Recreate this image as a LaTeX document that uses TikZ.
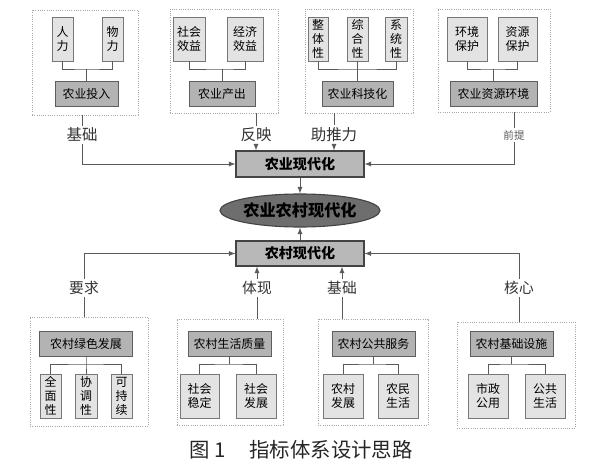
\documentclass[tikz,border=0pt]{standalone}
\usepackage{fontspec}
\newfontfamily\cjk{Noto Sans CJK SC}
\usepackage{xcolor}
\usetikzlibrary{shapes, positioning}

\definecolor{leafgray}{HTML}{E3E3E3}
\definecolor{leafline}{HTML}{777777}
\definecolor{midgray}{HTML}{B3B3B3}
\definecolor{midline}{HTML}{5E5E5E}
\definecolor{coregray}{HTML}{B8B8B8}
\definecolor{coreline}{HTML}{444444}
\definecolor{ovalgray}{HTML}{6E6E6E}
\definecolor{grpline}{HTML}{A8A8A8}
\definecolor{lnkgray}{HTML}{5A5A5A}
\definecolor{tagtext}{HTML}{333333}

\begin{document}
\begin{tikzpicture}[x=0.025cm, y=-0.025cm, >=latex,
    wh/.style 2 args={minimum width=#1*0.025cm, minimum height=#2*0.025cm},
    leaf/.style={draw=leafline, fill=leafgray, inner sep=0pt, align=center, font=\cjk\fontsize{8.5}{10}\selectfont},
    mid/.style={draw=midline, fill=midgray, inner sep=0pt, font=\cjk\fontsize{8.5}{10}\selectfont},
    core/.style={draw=coreline, fill=coregray, line width=0.8pt, inner sep=0pt, font=\cjk\bfseries\fontsize{10}{12}\selectfont},
    grp/.style={draw=grpline, densely dotted, line width=0.6pt, inner sep=0pt},
    lnk/.style={draw=lnkgray, line width=0.6pt},
    tag/.style={inner sep=1.5pt, text=tagtext, font=\cjk\fontsize{11}{13}\selectfont}]

    \useasboundingbox (0,0) rectangle (600,473);

    % dotted frames, top
    \node[grp, wh={106}{105}] (f1) at (85,62.5) {};
    \node[grp, wh={108}{104}] (f2) at (224,61) {};
    \node[grp, wh={108}{104}] (f3) at (359,61) {};
    \node[grp, wh={112}{103}] (f4) at (494,60.5) {};

    % leaves, top
    \node[leaf, wh={21}{44}] (rl) at (62.5,39) {人\\力};
    \node[leaf, wh={21}{44}] (wl) at (112.5,39) {物\\力};
    \node[leaf, wh={32}{44}] (sy) at (189,39) {社会\\效益};
    \node[leaf, wh={36}{44}] (jy) at (245,39) {经济\\效益};
    \node[leaf, wh={20}{44}] (zt) at (318,39) {整\\体\\性};
    \node[leaf, wh={21}{44}] (zh) at (357.5,39) {综\\合\\性};
    \node[leaf, wh={22}{44}] (xt) at (396,39) {系\\统\\性};
    \node[leaf, wh={40}{44}] (hj) at (467,39) {环境\\保护};
    \node[leaf, wh={39}{44}] (zy) at (517.5,39) {资源\\保护};

    % second level, top
    \node[mid, wh={63}{25}] (tr) at (86.5,93.5) {农业投入};
    \node[mid, wh={66}{25}] (cc) at (222,93.5) {农业产出};
    \node[mid, wh={71}{25}] (kj) at (357.5,93.5) {农业科技化};
    \node[mid, wh={87}{25}] (zyhj) at (493.5,93.5) {农业资源环境};

    \coordinate (j1) at (86.5,69);
    \coordinate (j2) at (222,69);
    \coordinate (j3) at (357.5,69);
    \coordinate (j4) at (493.5,69);

    \draw[lnk] (rl.south) |- (j1) -| (wl.south);
    \draw[lnk] (j1) -- (tr.north);
    \draw[lnk] (sy.south) |- (j2) -| (jy.south);
    \draw[lnk] (j2) -- (cc.north);
    \draw[lnk] (zt.south) |- (j3) -| (xt.south);
    \draw[lnk] (zh.south) -- (j3) -- (kj.north);
    \draw[lnk] (hj.south) |- (j4) -| (zy.south);
    \draw[lnk] (j4) -- (zyhj.north);

    % labels, top
    \node[tag] (lb1) at (82,135) {基础};
    \node[tag] (lb2) at (256,135) {反映};
    \node[tag] (lb3) at (334,135) {助推力};
    \node[tag, font=\cjk\fontsize{7.5}{9}\selectfont, text=black!65] (lb4) at (514,135) {前提};

    % core
    \node[core, wh={128}{26}] (nyx) at (300,164) {农业现代化};
    \node[ellipse, draw=coreline, fill=ovalgray, line width=0.8pt, inner sep=0pt, wh={150}{33},
          font=\cjk\bfseries\fontsize{11.5}{13}\selectfont] (ny) at (300,210.5) {农业农村现代化};
    \node[core, wh={128}{25}] (ncx) at (300,253.5) {农村现代化};

    \draw[lnk] (f1.south -| lb1) -- (lb1.north);
    \draw[lnk] (f2.south -| lb2) -- (lb2.north);
    \draw[lnk] (f3.south -| lb3) -- (lb3.north);
    \draw[lnk] (f4.south -| lb4) -- (lb4.north);
    \draw[lnk, ->] (lb1.south) |- (nyx.west);
    \draw[lnk, ->] (lb2.south) -- (nyx.north -| lb2);
    \draw[lnk, ->] (lb3.south) -- (nyx.north -| lb3);
    \draw[lnk, ->] (lb4.south) |- (nyx.east);
    \draw[lnk, ->] (nyx.south) -- (ny.north);
    \draw[lnk, ->] (ncx.north) -- (ny.south);

    % labels, bottom
    \node[tag, font=\cjk\fontsize{10.5}{12}\selectfont] (lc1) at (84,288) {要求};
    \node[tag, font=\cjk\fontsize{10.5}{12}\selectfont] (lc2) at (257,288) {体现};
    \node[tag, font=\cjk\fontsize{10.5}{12}\selectfont] (lc3) at (342,288) {基础};
    \node[tag, font=\cjk\fontsize{10.5}{12}\selectfont] (lc4) at (519,288) {核心};

    \draw[lnk, ->] (lc1.north) |- (ncx.west);
    \draw[lnk, ->] (lc2.north) -- (ncx.south -| lc2);
    \draw[lnk, ->] (lc3.north) -- (ncx.south -| lc3);
    \draw[lnk, ->] (lc4.north) |- (ncx.east);

    % dotted frames, bottom
    \node[grp, wh={118}{109}] (g1) at (89,371.5) {};
    \node[grp, wh={106}{106}] (g2) at (230,372) {};
    \node[grp, wh={110}{106}] (g3) at (373,372) {};
    \node[grp, wh={118}{106}] (g4) at (516,375) {};

    \draw[lnk] (lc1.south) -- (g1.north -| lc1);
    \draw[lnk] (lc2.south) -- (g2.north -| lc2);
    \draw[lnk] (lc3.south) -- (g3.north -| lc3);
    \draw[lnk] (lc4.south) -- (g4.north -| lc4);

    % second level, bottom
    \node[mid, wh={93}{25}] (ls) at (86,343.5) {农村绿色发展};
    \node[mid, wh={83}{25}] (sh) at (229.5,343.5) {农村生活质量};
    \node[mid, wh={83}{25}] (gg) at (373.5,343.5) {农村公共服务};
    \node[mid, wh={83}{25}] (jc) at (511.5,343.5) {农村基础设施};

    % leaves, bottom
    \node[leaf, wh={21}{44}] (qm) at (50.5,396) {全\\面\\性};
    \node[leaf, wh={22}{44}] (xd) at (86,396) {协\\调\\性};
    \node[leaf, wh={21}{44}] (kc) at (121.5,396) {可\\持\\续};
    \node[leaf, wh={39}{44}] (wd) at (199.5,396) {社会\\稳定};
    \node[leaf, wh={40}{44}] (fz) at (256,396) {社会\\发展};
    \node[leaf, wh={40}{44}] (nf) at (343,396) {农村\\发展};
    \node[leaf, wh={40}{44}] (nm) at (398,396) {农民\\生活};
    \node[leaf, wh={40}{44}] (sz) at (488,396) {市政\\公用};
    \node[leaf, wh={40}{44}] (gs) at (545,396) {公共\\生活};

    \coordinate (k1) at (86,364);
    \coordinate (k2) at (229.5,364);
    \coordinate (k3) at (373.5,364);
    \coordinate (k4) at (511.5,364);

    \draw[lnk] (ls.south) -- (k1) -- (xd.north);
    \draw[lnk] (qm.north) |- (k1) -| (kc.north);
    \draw[lnk] (sh.south) -- (k2);
    \draw[lnk] (wd.north) |- (k2) -| (fz.north);
    \draw[lnk] (gg.south) -- (k3);
    \draw[lnk] (nf.north) |- (k3) -| (nm.north);
    \draw[lnk] (jc.south) -- (k4);
    \draw[lnk] (sz.north) |- (k4) -| (gs.north);

    % caption
    \node[font=\cjk\fontsize{14.5}{16}\selectfont, text=black!85, inner sep=0pt] (cap) at (208,450) {图 1};
    \node[font=\cjk\fontsize{14.5}{16}\selectfont, text=black!85, inner sep=0pt] (ttl) at (331,450) {指标体系设计思路};
\end{tikzpicture}
\end{document}
